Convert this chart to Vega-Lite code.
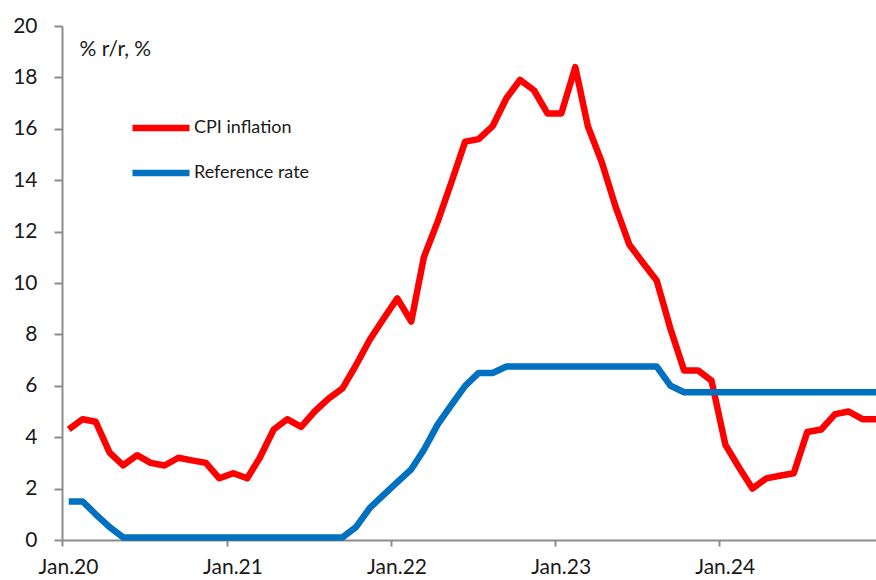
{
  "$schema": "https://vega.github.io/schema/vega-lite/v6.json",
  "autosize": {"type": "none"},
  "padding": {"left": 62, "top": 26, "right": 0, "bottom": 40},
  "width": 814,
  "height": 514,
  "background": "white",
  "config": {
    "view": {"stroke": null},
    "font": "Lato",
    "axis": {"grid": false, "domainColor": "#8c8c8c", "tickColor": "#8c8c8c", "domainWidth": 2, "tickWidth": 2, "labelColor": "#1a1a1a", "labelFont": "Lato", "labelFontSize": 21}
  },
  "data": {
    "values": [
      {"month": "2020-01-16", "series": "CPI inflation", "value": 4.3},
      {"month": "2020-02-16", "series": "CPI inflation", "value": 4.7},
      {"month": "2020-03-16", "series": "CPI inflation", "value": 4.6},
      {"month": "2020-04-16", "series": "CPI inflation", "value": 3.4},
      {"month": "2020-05-16", "series": "CPI inflation", "value": 2.9},
      {"month": "2020-06-16", "series": "CPI inflation", "value": 3.3},
      {"month": "2020-07-16", "series": "CPI inflation", "value": 3.0},
      {"month": "2020-08-16", "series": "CPI inflation", "value": 2.9},
      {"month": "2020-09-16", "series": "CPI inflation", "value": 3.2},
      {"month": "2020-10-16", "series": "CPI inflation", "value": 3.1},
      {"month": "2020-11-16", "series": "CPI inflation", "value": 3.0},
      {"month": "2020-12-16", "series": "CPI inflation", "value": 2.4},
      {"month": "2021-01-16", "series": "CPI inflation", "value": 2.6},
      {"month": "2021-02-16", "series": "CPI inflation", "value": 2.4},
      {"month": "2021-03-16", "series": "CPI inflation", "value": 3.2},
      {"month": "2021-04-16", "series": "CPI inflation", "value": 4.3},
      {"month": "2021-05-16", "series": "CPI inflation", "value": 4.7},
      {"month": "2021-06-16", "series": "CPI inflation", "value": 4.4},
      {"month": "2021-07-16", "series": "CPI inflation", "value": 5.0},
      {"month": "2021-08-16", "series": "CPI inflation", "value": 5.5},
      {"month": "2021-09-16", "series": "CPI inflation", "value": 5.9},
      {"month": "2021-10-16", "series": "CPI inflation", "value": 6.8},
      {"month": "2021-11-16", "series": "CPI inflation", "value": 7.8},
      {"month": "2021-12-16", "series": "CPI inflation", "value": 8.6},
      {"month": "2022-01-16", "series": "CPI inflation", "value": 9.4},
      {"month": "2022-02-16", "series": "CPI inflation", "value": 8.5},
      {"month": "2022-03-16", "series": "CPI inflation", "value": 11.0},
      {"month": "2022-04-16", "series": "CPI inflation", "value": 12.4},
      {"month": "2022-05-16", "series": "CPI inflation", "value": 13.9},
      {"month": "2022-06-16", "series": "CPI inflation", "value": 15.5},
      {"month": "2022-07-16", "series": "CPI inflation", "value": 15.6},
      {"month": "2022-08-16", "series": "CPI inflation", "value": 16.1},
      {"month": "2022-09-16", "series": "CPI inflation", "value": 17.2},
      {"month": "2022-10-16", "series": "CPI inflation", "value": 17.9},
      {"month": "2022-11-16", "series": "CPI inflation", "value": 17.5},
      {"month": "2022-12-16", "series": "CPI inflation", "value": 16.6},
      {"month": "2023-01-16", "series": "CPI inflation", "value": 16.6},
      {"month": "2023-02-16", "series": "CPI inflation", "value": 18.4},
      {"month": "2023-03-16", "series": "CPI inflation", "value": 16.1},
      {"month": "2023-04-16", "series": "CPI inflation", "value": 14.7},
      {"month": "2023-05-16", "series": "CPI inflation", "value": 13.0},
      {"month": "2023-06-16", "series": "CPI inflation", "value": 11.5},
      {"month": "2023-07-16", "series": "CPI inflation", "value": 10.8},
      {"month": "2023-08-16", "series": "CPI inflation", "value": 10.1},
      {"month": "2023-09-16", "series": "CPI inflation", "value": 8.2},
      {"month": "2023-10-16", "series": "CPI inflation", "value": 6.6},
      {"month": "2023-11-16", "series": "CPI inflation", "value": 6.6},
      {"month": "2023-12-16", "series": "CPI inflation", "value": 6.2},
      {"month": "2024-01-16", "series": "CPI inflation", "value": 3.7},
      {"month": "2024-02-16", "series": "CPI inflation", "value": 2.8},
      {"month": "2024-03-16", "series": "CPI inflation", "value": 2.0},
      {"month": "2024-04-16", "series": "CPI inflation", "value": 2.4},
      {"month": "2024-05-16", "series": "CPI inflation", "value": 2.5},
      {"month": "2024-06-16", "series": "CPI inflation", "value": 2.6},
      {"month": "2024-07-16", "series": "CPI inflation", "value": 4.2},
      {"month": "2024-08-16", "series": "CPI inflation", "value": 4.3},
      {"month": "2024-09-16", "series": "CPI inflation", "value": 4.9},
      {"month": "2024-10-16", "series": "CPI inflation", "value": 5.0},
      {"month": "2024-11-16", "series": "CPI inflation", "value": 4.7},
      {"month": "2024-12-16", "series": "CPI inflation", "value": 4.7},
      {"month": "2020-01-16", "series": "Reference rate", "value": 1.5},
      {"month": "2020-02-16", "series": "Reference rate", "value": 1.5},
      {"month": "2020-03-16", "series": "Reference rate", "value": 1.0},
      {"month": "2020-04-16", "series": "Reference rate", "value": 0.5},
      {"month": "2020-05-16", "series": "Reference rate", "value": 0.1},
      {"month": "2020-06-16", "series": "Reference rate", "value": 0.1},
      {"month": "2020-07-16", "series": "Reference rate", "value": 0.1},
      {"month": "2020-08-16", "series": "Reference rate", "value": 0.1},
      {"month": "2020-09-16", "series": "Reference rate", "value": 0.1},
      {"month": "2020-10-16", "series": "Reference rate", "value": 0.1},
      {"month": "2020-11-16", "series": "Reference rate", "value": 0.1},
      {"month": "2020-12-16", "series": "Reference rate", "value": 0.1},
      {"month": "2021-01-16", "series": "Reference rate", "value": 0.1},
      {"month": "2021-02-16", "series": "Reference rate", "value": 0.1},
      {"month": "2021-03-16", "series": "Reference rate", "value": 0.1},
      {"month": "2021-04-16", "series": "Reference rate", "value": 0.1},
      {"month": "2021-05-16", "series": "Reference rate", "value": 0.1},
      {"month": "2021-06-16", "series": "Reference rate", "value": 0.1},
      {"month": "2021-07-16", "series": "Reference rate", "value": 0.1},
      {"month": "2021-08-16", "series": "Reference rate", "value": 0.1},
      {"month": "2021-09-16", "series": "Reference rate", "value": 0.1},
      {"month": "2021-10-16", "series": "Reference rate", "value": 0.5},
      {"month": "2021-11-16", "series": "Reference rate", "value": 1.25},
      {"month": "2021-12-16", "series": "Reference rate", "value": 1.75},
      {"month": "2022-01-16", "series": "Reference rate", "value": 2.25},
      {"month": "2022-02-16", "series": "Reference rate", "value": 2.75},
      {"month": "2022-03-16", "series": "Reference rate", "value": 3.5},
      {"month": "2022-04-16", "series": "Reference rate", "value": 4.5},
      {"month": "2022-05-16", "series": "Reference rate", "value": 5.25},
      {"month": "2022-06-16", "series": "Reference rate", "value": 6.0},
      {"month": "2022-07-16", "series": "Reference rate", "value": 6.5},
      {"month": "2022-08-16", "series": "Reference rate", "value": 6.5},
      {"month": "2022-09-16", "series": "Reference rate", "value": 6.75},
      {"month": "2022-10-16", "series": "Reference rate", "value": 6.75},
      {"month": "2022-11-16", "series": "Reference rate", "value": 6.75},
      {"month": "2022-12-16", "series": "Reference rate", "value": 6.75},
      {"month": "2023-01-16", "series": "Reference rate", "value": 6.75},
      {"month": "2023-02-16", "series": "Reference rate", "value": 6.75},
      {"month": "2023-03-16", "series": "Reference rate", "value": 6.75},
      {"month": "2023-04-16", "series": "Reference rate", "value": 6.75},
      {"month": "2023-05-16", "series": "Reference rate", "value": 6.75},
      {"month": "2023-06-16", "series": "Reference rate", "value": 6.75},
      {"month": "2023-07-16", "series": "Reference rate", "value": 6.75},
      {"month": "2023-08-16", "series": "Reference rate", "value": 6.75},
      {"month": "2023-09-16", "series": "Reference rate", "value": 6.0},
      {"month": "2023-10-16", "series": "Reference rate", "value": 5.75},
      {"month": "2023-11-16", "series": "Reference rate", "value": 5.75},
      {"month": "2023-12-16", "series": "Reference rate", "value": 5.75},
      {"month": "2024-01-16", "series": "Reference rate", "value": 5.75},
      {"month": "2024-02-16", "series": "Reference rate", "value": 5.75},
      {"month": "2024-03-16", "series": "Reference rate", "value": 5.75},
      {"month": "2024-04-16", "series": "Reference rate", "value": 5.75},
      {"month": "2024-05-16", "series": "Reference rate", "value": 5.75},
      {"month": "2024-06-16", "series": "Reference rate", "value": 5.75},
      {"month": "2024-07-16", "series": "Reference rate", "value": 5.75},
      {"month": "2024-08-16", "series": "Reference rate", "value": 5.75},
      {"month": "2024-09-16", "series": "Reference rate", "value": 5.75},
      {"month": "2024-10-16", "series": "Reference rate", "value": 5.75},
      {"month": "2024-11-16", "series": "Reference rate", "value": 5.75},
      {"month": "2024-12-16", "series": "Reference rate", "value": 5.75}
    ]
  },
  "mark": {"type": "line", "strokeWidth": 6.5, "strokeJoin": "round", "strokeCap": "butt"},
  "encoding": {
    "x": {
      "field": "month",
      "type": "temporal",
      "scale": {"type": "utc", "domain": ["2020-01-01", "2024-12-16"]},
      "axis": {
        "title": null,
        "format": "%b.%y",
        "tickCount": {"interval": "year", "step": 1},
        "tickSize": 6,
        "labelOffset": 6,
        "labelPadding": 10,
        "labelAlign": "center",
        "labelFlush": false,
        "labelOverlap": false
      }
    },
    "y": {
      "field": "value",
      "type": "quantitative",
      "scale": {"domain": [0, 20], "nice": false},
      "axis": {
        "values": [0, 2, 4, 6, 8, 10, 12, 14, 16, 18, 20],
        "tickSize": 8,
        "labelPadding": 17,
        "title": "% r/r, %",
        "titleAngle": 0,
        "titleX": 17,
        "titleY": 29,
        "titleAlign": "left",
        "titleBaseline": "alphabetic",
        "titleFont": "Lato",
        "titleFontSize": 21,
        "titleFontWeight": "normal",
        "titleColor": "#1a1a1a"
      }
    },
    "color": {
      "field": "series",
      "type": "nominal",
      "scale": {"domain": ["CPI inflation", "Reference rate"], "range": ["#FF0000", "#0070C0"]},
      "legend": {
        "title": null,
        "orient": "none",
        "legendX": 67,
        "legendY": 70,
        "symbolType": "stroke",
        "symbolSize": 3249,
        "symbolStrokeWidth": 6.5,
        "labelFont": "Lato",
        "labelFontSize": 18,
        "labelColor": "#1a1a1a",
        "labelOffset": 1,
        "rowPadding": -23,
        "padding": 0
      }
    }
  }
}
